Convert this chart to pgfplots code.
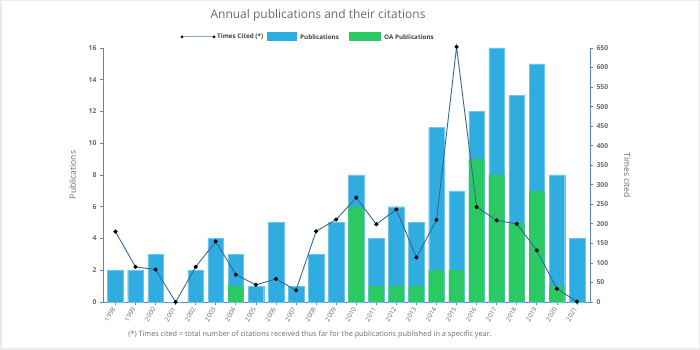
\documentclass[border=0pt]{standalone}
\usepackage{pgfplots}
\pgfplotsset{compat=1.18}
\usepackage{fontspec}
\setmainfont{Open Sans}
\definecolor{pubblue}{HTML}{2FADE0}
\definecolor{pubedge}{HTML}{6CC6EC}
\definecolor{oagreen}{HTML}{2BC962}
\definecolor{linecol}{HTML}{36679A}
\definecolor{axcol}{HTML}{5B86B8}
\definecolor{txtgray}{HTML}{6A6A6A}
\begin{document}
\begin{tikzpicture}[x=1pt,y=1pt]
\draw[draw=black!8,line width=1.5pt] (0.75,0.75) rectangle (699.25,349.25);
\path (0,0) rectangle (700,350);
\pgfplotsset{
  common/.style={
    scale only axis, width=487pt, height=254pt,
    at={(103pt,48pt)}, anchor=south west,
    xmin=-0.62, xmax=23.65,
    axis line style={axcol, line width=0.8pt},
    tick style={axcol, line width=0.8pt},
    tick label style={font=\fontsize{6.8}{7}\selectfont\bfseries, text=txtgray},
    /pgf/number format/assume math mode=true,
    label style={font=\fontsize{8.5}{10}\selectfont, text=txtgray},
  }
}
\begin{axis}[common,
  axis x line*=bottom, axis y line*=left,
  ymin=0, ymax=16, ytick={0,2,...,16},
  xtick={0,...,23},
  xticklabels={1998,1999,2000,2001,2002,2003,2004,2005,2006,2007,2008,2009,2010,2011,2012,2013,2014,2015,2016,2017,2018,2019,2020,2021},
  x tick label style={rotate=60, anchor=east, font=\fontsize{6.5}{7}\selectfont, text=txtgray},
  tick align=outside, major tick length=3pt,
  ylabel={Publications}, ylabel style={yshift=6pt},
  clip=false,
]
\addplot[ybar, bar width=15.6pt, fill=pubblue, draw=pubedge, line width=0.4pt] coordinates {
(0,2)(1,2)(2,3)(3,0)(4,2)(5,4)(6,3)(7,1)(8,5)(9,1)(10,3)(11,5)(12,8)(13,4)(14,6)(15,5)(16,11)(17,7)(18,12)(19,16)(20,13)(21,15)(22,8)(23,4)};
\addplot[ybar, bar width=15.6pt, fill=oagreen, draw=none] coordinates {
(0,0)(1,0)(2,0)(3,0)(4,0)(5,0)(6,1)(7,0)(8,0)(9,0)(10,0)(11,0)(12,6)(13,1)(14,1)(15,1)(16,2)(17,2)(18,9)(19,8)(20,5)(21,7)(22,1)(23,0)};
\end{axis}
\begin{axis}[common,
  axis x line=none, axis y line*=right,
  ymin=0, ymax=650, ytick={0,50,...,650},
  tick align=outside, major tick length=3pt,
  ylabel={Times cited}, ylabel style={rotate=180, yshift=9pt},
  clip=false,
]
\addplot[linecol, line width=0.9pt, mark=*, mark size=1.6pt, mark options={fill=black, draw=black}] coordinates {
(0,180)(1,90)(2,83)(3,0)(4,90)(5,155)(6,70)(7,44)(8,59)(9,30)(10,181)(11,211)(12,267)(13,199)(14,237)(15,114)(16,210)(17,653)(18,243)(19,209)(20,200)(21,132)(22,34)(23,1)};
\end{axis}
% title
\node[text=txtgray, font=\fontsize{12}{14}\selectfont] at (318,335) {Annual publications and their citations};
% legend
\draw[axcol!70, line width=1pt] (182,313) -- (214,313);
\fill[black] (182,313) circle (1.5pt);
\fill[black] (214,313) circle (1.5pt);
\node[anchor=west, text=black!75, font=\fontsize{6.3}{7}\selectfont\bfseries, inner sep=0pt] at (217,313) {Times Cited (*)};
\fill[pubblue] (267,308.5) rectangle (297,318);
\node[anchor=west, text=black!75, font=\fontsize{6.3}{7}\selectfont\bfseries, inner sep=0pt] at (300,313) {Publications};
\fill[oagreen] (349,308.5) rectangle (381,318);
\node[anchor=west, text=black!75, font=\fontsize{6.3}{7}\selectfont\bfseries, inner sep=0pt] at (384,313) {OA Publications};
% footnote
\node[text=txtgray, font=\fontsize{7.3}{8}\selectfont] at (310,15) {(*) Times cited = total number of citations received thus far for the publications published in a specific year.};
\end{tikzpicture}
\end{document}
